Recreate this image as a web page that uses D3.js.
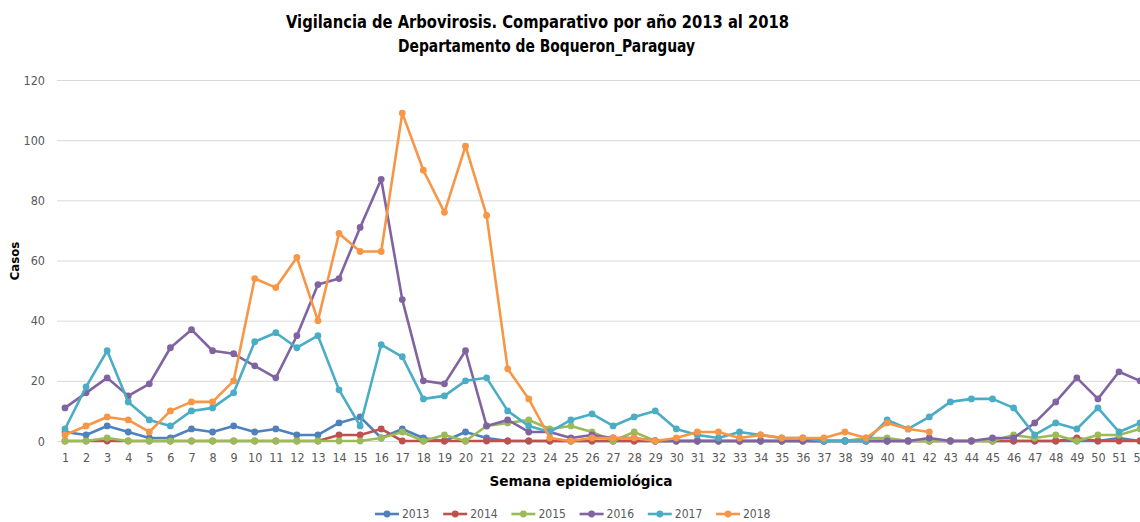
<!DOCTYPE html>
<html>
<head>
<meta charset="utf-8">
<script src="https://cdnjs.cloudflare.com/ajax/libs/d3/7.8.5/d3.min.js"></script>
<style>
  body { margin: 0; background: #fff; }
  svg { display: block; font-family: "DejaVu Sans Condensed", "Open Sans", sans-serif; }
</style>
</head>
<body>
<div class="chart"></div>
<script>
/* Data */
const weeks = d3.range(1, 53);
const years = ["2013", "2014", "2015", "2016", "2017", "2018"];
const colors = ["#4F81BD", "#C0504D", "#9BBB59", "#8064A2", "#4BACC6", "#F79646"];
const yTicks = [0, 20, 40, 60, 80, 100, 120];

const s2013 = [3,2,5,3,1,1,4,3,5,3,4,2,2,6,8,1,4,1,0,3,1,0,0,0,0,0,0,0,0,0,0,0,0,0,0,0,0,0,0,0,0,0,0,0,0,0,0,0,0,0,1,0];
const s2014 = [0,0,0,0,0,0,0,0,0,0,0,0,0,2,2,4,0,0,0,0,0,0,0,0,0,0,0,0,0,0,0,0,0,0,0,0,0,0,0,0,0,0,0,0,0,0,0,0,1,0,0,0];
const s2015 = [0,0,1,0,0,0,0,0,0,0,0,0,0,0,0,1,3,0,2,0,5,6,7,4,5,3,0,3,0,0,0,0,0,0,0,0,0,0,1,1,0,0,0,0,0,2,1,2,0,2,2,4];
const s2016 = [11,16,21,15,19,31,37,30,29,25,21,35,52,54,71,87,47,20,19,30,5,7,3,3,1,2,1,1,0,0,0,0,0,0,0,0,0,0,0,0,0,1,0,0,1,1,6,13,21,14,23,20];
const s2017 = [4,18,30,13,7,5,10,11,16,33,36,31,35,17,5,32,28,14,15,20,21,10,5,3,7,9,5,8,10,4,2,1,3,2,1,1,0,0,0,7,4,8,13,14,14,11,2,6,4,11,3,6];
const s2018 = [2,5,8,7,3,10,13,13,20,54,51,61,40,69,63,63,109,90,76,98,75,24,14,1,0,1,1,1,0,1,3,3,1,2,1,1,1,3,1,6,4,3];

const seriesValues = [s2013, s2014, s2015, s2016, s2017, s2018];

const w = 1140;
const h = 522;

/* scales */
const xScale = d3.scaleLinear()
                 .domain([1, 52])
                 .range([65, 65 + 51 * 21.08]);

const yScale = d3.scaleLinear()
                 .domain([0, 120])
                 .range([441, 80]);

const svg = d3.select(".chart")
              .append("svg")
              .attr("width", w)
              .attr("height", h);

/* title, squeezed to the narrow face of the original */
svg.append("text")
   .attr("x", 286).attr("y", 28)
   .attr("font-weight", "bold")
   .attr("font-size", 18.5)
   .attr("textLength", 503)
   .attr("lengthAdjust", "spacingAndGlyphs")
   .text("Vigilancia de Arbovirosis. Comparativo por año 2013 al 2018");
svg.append("text")
   .attr("x", 398).attr("y", 52)
   .attr("font-weight", "bold")
   .attr("font-size", 18.5)
   .attr("textLength", 297)
   .attr("lengthAdjust", "spacingAndGlyphs")
   .text("Departamento de Boqueron_Paraguay");

/* gridlines */
const yAxis = d3.axisLeft(yScale)
                .tickValues(yTicks)
                .tickSize(-(w - 57))
                .tickPadding(12);

svg.append("g")
   .attr("transform", "translate(57,0)")
   .call(yAxis)
   .call(g => g.select(".domain").remove())
   .call(g => g.selectAll(".tick line").attr("stroke", "#d9d9d9").attr("stroke-width", 1))
   .call(g => g.selectAll(".tick text")
               .attr("fill", "#595959")
               .attr("font-size", 12.5)
               .attr("font-family", "DejaVu Sans Condensed, sans-serif"));

/* x axis labels */
const xAxis = d3.axisBottom(xScale)
                .tickValues(weeks)
                .tickFormat(d3.format("d"))
                .tickSize(0)
                .tickPadding(12);

svg.append("g")
   .attr("transform", "translate(0,441)")
   .call(xAxis)
   .call(g => g.select(".domain").remove())
   .call(g => g.selectAll(".tick text")
               .attr("fill", "#595959")
               .attr("font-size", 12.5)
               .attr("font-family", "DejaVu Sans Condensed, sans-serif"));

/* axis titles */
svg.append("text")
   .attr("x", 581)
   .attr("y", 486)
   .attr("text-anchor", "middle")
   .attr("font-weight", "bold")
   .attr("font-size", 13.5)
   .attr("textLength", 183)
   .attr("lengthAdjust", "spacingAndGlyphs")
   .text("Semana  epidemiológica");

svg.append("text")
   .attr("transform", "translate(19,261) rotate(-90)")
   .attr("text-anchor", "middle")
   .attr("font-weight", "bold")
   .attr("font-size", 13)
   .text("Casos");

/* lines */
const line = d3.line()
               .x((d, i) => xScale(weeks[i]))
               .y(d => yScale(d));

seriesValues.forEach((vals, k) => {
  const g = svg.append("g").attr("class", "series-" + years[k]);
  g.append("path")
   .datum(vals)
   .attr("d", line)
   .attr("fill", "none")
   .attr("stroke", colors[k])
   .attr("stroke-width", 2.6)
   .attr("stroke-linejoin", "round");
  g.selectAll("circle")
   .data(vals)
   .enter()
   .append("circle")
   .attr("cx", (d, i) => xScale(weeks[i]))
   .attr("cy", d => yScale(d))
   .attr("r", 3.4)
   .attr("fill", colors[k]);
});

/* legend */
const legend = svg.append("g").attr("transform", "translate(375,518)");
years.forEach((yr, k) => {
  const item = legend.append("g").attr("transform", "translate(" + (k * 68.2) + ",0)");
  item.append("line")
      .attr("x1", 0).attr("x2", 24)
      .attr("y1", -4).attr("y2", -4)
      .attr("stroke", colors[k])
      .attr("stroke-width", 2.6);
  item.append("circle")
      .attr("cx", 12).attr("cy", -4).attr("r", 3.4)
      .attr("fill", colors[k]);
  item.append("text")
      .attr("x", 27)
      .attr("y", 0)
      .attr("fill", "#595959")
      .attr("font-size", 12)
      .text(yr);
});
</script>
</body>
</html>
